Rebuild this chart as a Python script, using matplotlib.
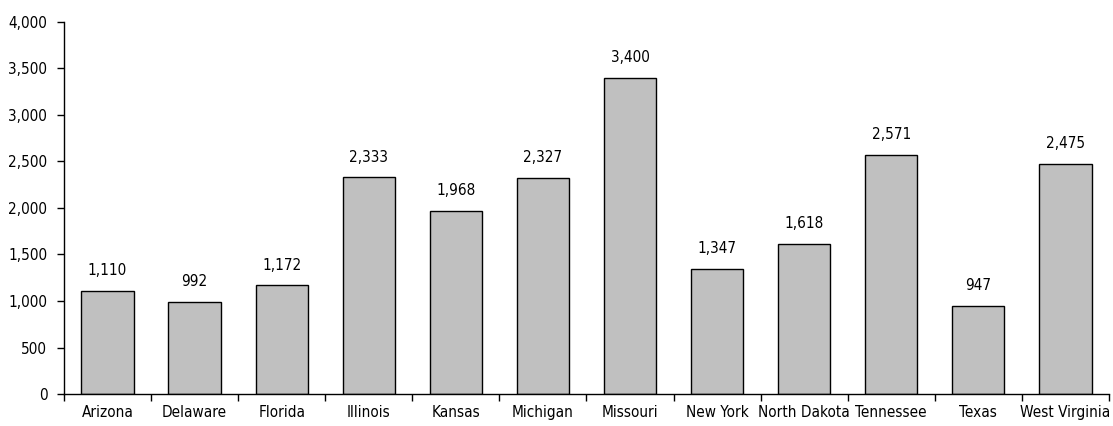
import matplotlib
matplotlib.use("Agg")
import matplotlib.pyplot as plt
from matplotlib import font_manager
import numpy as np

states = ["Arizona", "Delaware", "Florida", "Illinois", "Kansas", "Michigan",
          "Missouri", "New York", "North Dakota", "Tennessee", "Texas", "West Virginia"]
values = [1110, 992, 1172, 2333, 1968, 2327, 3400, 1347, 1618, 2571, 947, 2475]
y_ticks = [0, 500, 1000, 1500, 2000, 2500, 3000, 3500, 4000]

# Pick a narrow/condensed face if one is installed
files = sorted(f.fname for f in font_manager.fontManager.ttflist)
narrow = [f for f in files if ("Narrow" in f or "Condensed" in f)
          and "Bold" not in f and "Italic" not in f and "Oblique" not in f]
if narrow:
    fp = font_manager.FontProperties(fname=narrow[0], size=11)
else:
    fp = font_manager.FontProperties(family="DejaVu Sans", stretch="condensed", size=11)

fig = plt.figure(figsize=(11.13, 4.26), dpi=100)
ax = fig.add_axes([0.0575, 0.0751, 0.9389, 0.8733])

x = np.arange(len(states))
ax.bar(x, values, width=0.6, color="#c0c0c0", edgecolor="black", linewidth=1.0)

for xi, v in zip(x, values):
    ax.annotate(f"{v:,}", (xi, v), xytext=(0, 9), textcoords="offset points",
                ha="center", va="bottom", fontproperties=fp)

ax.set_xlim(-0.5, len(states) - 0.5)
ax.set_ylim(0, 4000)
ax.set_yticks(y_ticks)
ax.set_yticklabels([f"{t:,}" for t in y_ticks], fontproperties=fp)
ax.set_xticks(x)
ax.set_xticklabels(states, fontproperties=fp)
ax.set_xticks(np.arange(len(states) + 1) - 0.5, minor=True)
ax.tick_params(axis="x", which="major", length=0, pad=8)
ax.tick_params(axis="x", which="minor", length=5, width=1, direction="out")
ax.tick_params(axis="y", length=5, width=1, direction="out", pad=7)

for side in ("top", "right"):
    ax.spines[side].set_visible(False)
for side in ("left", "bottom"):
    ax.spines[side].set_linewidth(1.0)

fig.savefig("out.png", dpi=100)
